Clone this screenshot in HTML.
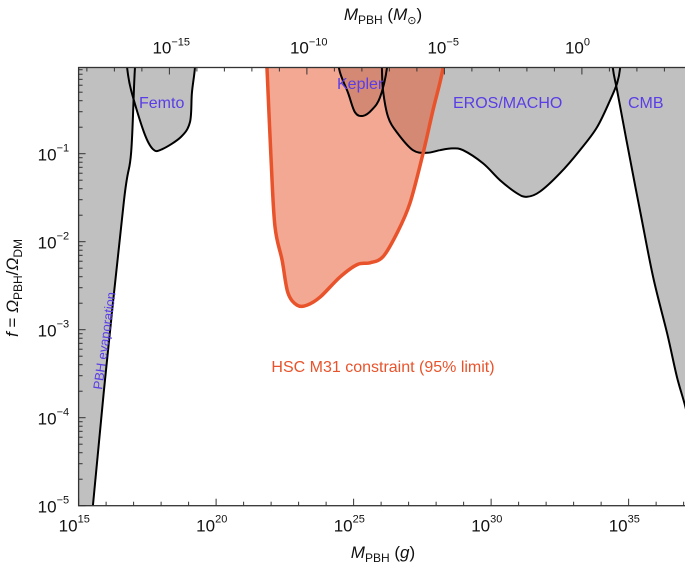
<!DOCTYPE html>
<html><head><meta charset="utf-8"><style>
body{margin:0;background:#fff;}
svg{display:block;font-family:"Liberation Sans",sans-serif;}
</style></head><body>
<svg id="chart" width="685" height="568" viewBox="0 0 685 568"></svg>
<script>
const evapM=[15.52,15.96,16.65,16.91,17.05,17.2];
const evapF=[-5,-3.57,-1.53,-0.99,-0.02,0.3];
const femtoM=[16.7,16.76,16.91,17.38,17.71,18.03,18.72,19.05,19.12,19.23,19.3];
const femtoF=[0.3,-0.01,-0.28,-0.76,-0.95,-0.95,-0.81,-0.64,-0.31,-0.03,0.3];
const keplerM=[24.45,24.47,24.80,25.05,25.34,25.67,25.96,26.21,26.25];
const keplerF=[0.3,-0.03,-0.31,-0.53,-0.57,-0.50,-0.36,-0.03,0.3];
const erosM=[26.0,26.03,26.07,26.25,26.58,27.16,27.67,28.14,28.58,28.98,29.71,30.32,30.94,31.31,31.78,32.51,33.23,33.85,34.33,34.58,34.69,34.75];
const erosF=[0.3,-0.03,-0.28,-0.58,-0.76,-0.96,-0.99,-0.96,-0.94,-0.96,-1.11,-1.30,-1.45,-1.49,-1.43,-1.22,-0.96,-0.70,-0.39,-0.20,-0.03,0.3];
const cmbM=[34.38,34.43,34.58,34.94,35.41,35.89,36.40,36.76,37.05,37.3];
const cmbF=[0.3,-0.03,-0.28,-0.88,-1.64,-2.40,-3.04,-3.54,-3.86,-4.2];
const hscM=[21.8,21.85,22.0,22.14,22.40,22.61,22.94,23.31,23.78,24.51,25.13,25.60,26.07,26.58,27.05,27.53,27.89,28.25,28.3];
const hscF=[0.3,-0.03,-1.07,-1.83,-2.21,-2.58,-2.72,-2.72,-2.63,-2.40,-2.26,-2.24,-2.17,-1.90,-1.56,-0.99,-0.50,-0.03,0.3];
const xTickLabels=["15","20","25","30","35"];
const yTickLabels=["-5","-4","-3","-2","-1"];
const topTickLabels=["−15","−10","−5","0"];

const L=78.6,R=685,T=67.5,B=505.7;
const xmin=15,xmax=37.05,ymin=-5,ymax=-0.0205;
const X=v=>L+(v-xmin)/(xmax-xmin)*(R-L);
const Y=v=>B-(v-ymin)/(ymax-ymin)*(B-T);
const NS="http://www.w3.org/2000/svg";
const svg=document.getElementById('chart');
function mk(t,a,p){const e=document.createElementNS(NS,t);for(const k in a)e.setAttribute(k,a[k]);(p||svg).appendChild(e);return e;}
const defs=mk('defs',{});const cp=mk('clipPath',{id:'pc'},defs);mk('rect',{x:L,y:T,width:R-L,height:B-T},cp);
const gFill=mk('g',{'clip-path':'url(#pc)'});
const gHsc=mk('g',{'clip-path':'url(#pc)'});
const gLine=mk('g',{'clip-path':'url(#pc)'});
const gTop=mk('g',{'clip-path':'url(#pc)'});
function smooth(ms,fs){
  const p=ms.map((m,i)=>[X(m),Y(fs[i])]);
  let d='M'+p[0][0].toFixed(1)+','+p[0][1].toFixed(1);
  for(let i=0;i<p.length-1;i++){
    const p0=p[Math.max(0,i-1)],p1=p[i],p2=p[i+1],p3=p[Math.min(p.length-1,i+2)];
    const c1=[p1[0]+(p2[0]-p0[0])/6,p1[1]+(p2[1]-p0[1])/6];
    const c2=[p2[0]-(p3[0]-p1[0])/6,p2[1]-(p3[1]-p1[1])/6];
    d+=' C'+c1.map(v=>v.toFixed(1)).join(',')+' '+c2.map(v=>v.toFixed(1)).join(',')+' '+p2[0].toFixed(1)+','+p2[1].toFixed(1);
  }
  return d;
}
function region(ms,fs,extra,name,fill){
  const d=smooth(ms,fs);
  const p=mk('path',{d:d+extra+' Z',fill:fill,stroke:'none'},gFill);
  
  
  const l=mk('path',{d:d,fill:'none',stroke:'#000','stroke-width':2,'stroke-linejoin':'round'},gLine);
  
  
}
region(evapM,evapF,' L'+X(15)+','+Y(0.3)+' L'+X(15)+','+Y(-5),'evaporation','#c0c0c0');
region(femtoM,femtoF,'','femto','#c0c0c0');
region(keplerM,keplerF,'','kepler','#c0c0c0');
region(erosM,erosF,'','eros-macho','#c0c0c0');
region(cmbM,cmbF,' L'+X(37.3)+','+Y(0.3),'cmb','#c0c0c0');
const hd=smooth(hscM,hscF);
const hf=mk('path',{d:hd+' Z',fill:'rgba(229,84,44,0.51)'},gHsc);


const hl=mk('path',{d:hd,fill:'none',stroke:'#e8532b','stroke-width':3.5,'stroke-linejoin':'round'},gTop);



const fr=mk('rect',{x:L,y:T,width:R-L+2,height:B-T,fill:'none',stroke:'#333','stroke-width':1.3});


for(let d=15;d<=37;d++){const maj=(d%5===0);const x=X(d);
  mk('line',{x1:x,x2:x,y1:B,y2:B-(maj?7:4),stroke:'#333','stroke-width':1});}
xTickLabels.forEach(s=>{const x=X(+s);
  const t=mk('text',{x:x-1,y:B+26,'font-size':17,'text-anchor':'end',fill:'#111'});t.textContent='10';
  
  
  const e=mk('text',{x:x-1,y:B+17,'font-size':11,fill:'#111'});e.textContent=s;});
const off=Math.log10(2e33);
for(let k=-20;k<=5;k++){const v=off+k;if(v<xmin||v>xmax)continue;const x=X(v);const maj=(k%5===0);
  mk('line',{x1:x,x2:x,y1:T,y2:T+(maj?7:4),stroke:'#333','stroke-width':1});}
topTickLabels.forEach(s=>{const k=+s.replace('−','-');const x=X(off+k);
  const t=mk('text',{x:x+2,y:T-14,'font-size':17,'text-anchor':'end',fill:'#111'});t.textContent='10';
  
  
  const e=mk('text',{x:x+2,y:T-22,'font-size':11,fill:'#111'});e.textContent=s;});
for(let d=-5;d<0;d++){for(let m=1;m<10;m++){const v=d+Math.log10(m);if(v>ymax)continue;const y=Y(v);
  mk('line',{x1:L,x2:L+(m===1?7:4),y1:y,y2:y,stroke:'#333','stroke-width':1});}}
yTickLabels.forEach(s=>{const y=Y(+s);
  const t=mk('text',{x:L-22,y:y+7,'font-size':17,'text-anchor':'end',fill:'#111'});t.textContent='10';
  
  
  const e=mk('text',{x:L-22,y:y-2,'font-size':11,fill:'#111'});e.textContent=s.replace('-','−');});
</script>
<svg style="position:absolute;left:0;top:0" width="685" height="568">
<g font-family="Liberation Sans, sans-serif">
<text x="139" y="108" font-size="16" fill="#5a3de6">Femto</text>
<text x="337" y="89" font-size="16" fill="#5a3de6">Kepler</text>
<text x="453" y="108" font-size="16" fill="#5a3de6">EROS/MACHO</text>
<text x="628" y="108" font-size="16" fill="#5a3de6">CMB</text>
<text transform="translate(102,390) rotate(-82)" font-size="13" fill="#5a3de6">PBH evaporation</text>
<text x="383" y="372" font-size="16" fill="#e8532b" text-anchor="middle">HSC M31 constraint (95% limit)</text>
<text x="383" y="558" font-size="17" text-anchor="middle" fill="#111"><tspan font-style="italic">M</tspan><tspan font-size="12" dy="4">PBH</tspan><tspan dy="-4"> (</tspan><tspan font-style="italic">g</tspan>)</text>
<text x="383" y="20" font-size="17" text-anchor="middle" fill="#111"><tspan font-style="italic">M</tspan><tspan font-size="12" dy="4">PBH</tspan><tspan dy="-4"> (</tspan><tspan font-style="italic">M</tspan><tspan font-size="11" dy="4">⊙</tspan><tspan dy="-4">)</tspan></text>
<text transform="translate(18,288) rotate(-90)" font-size="17" text-anchor="middle" fill="#111"><tspan font-style="italic">f</tspan> = <tspan font-style="italic">Ω</tspan><tspan font-size="12" dy="4">PBH</tspan><tspan dy="-4">/</tspan><tspan font-style="italic">Ω</tspan><tspan font-size="12" dy="4">DM</tspan></text>
</g></svg>
</body></html>
